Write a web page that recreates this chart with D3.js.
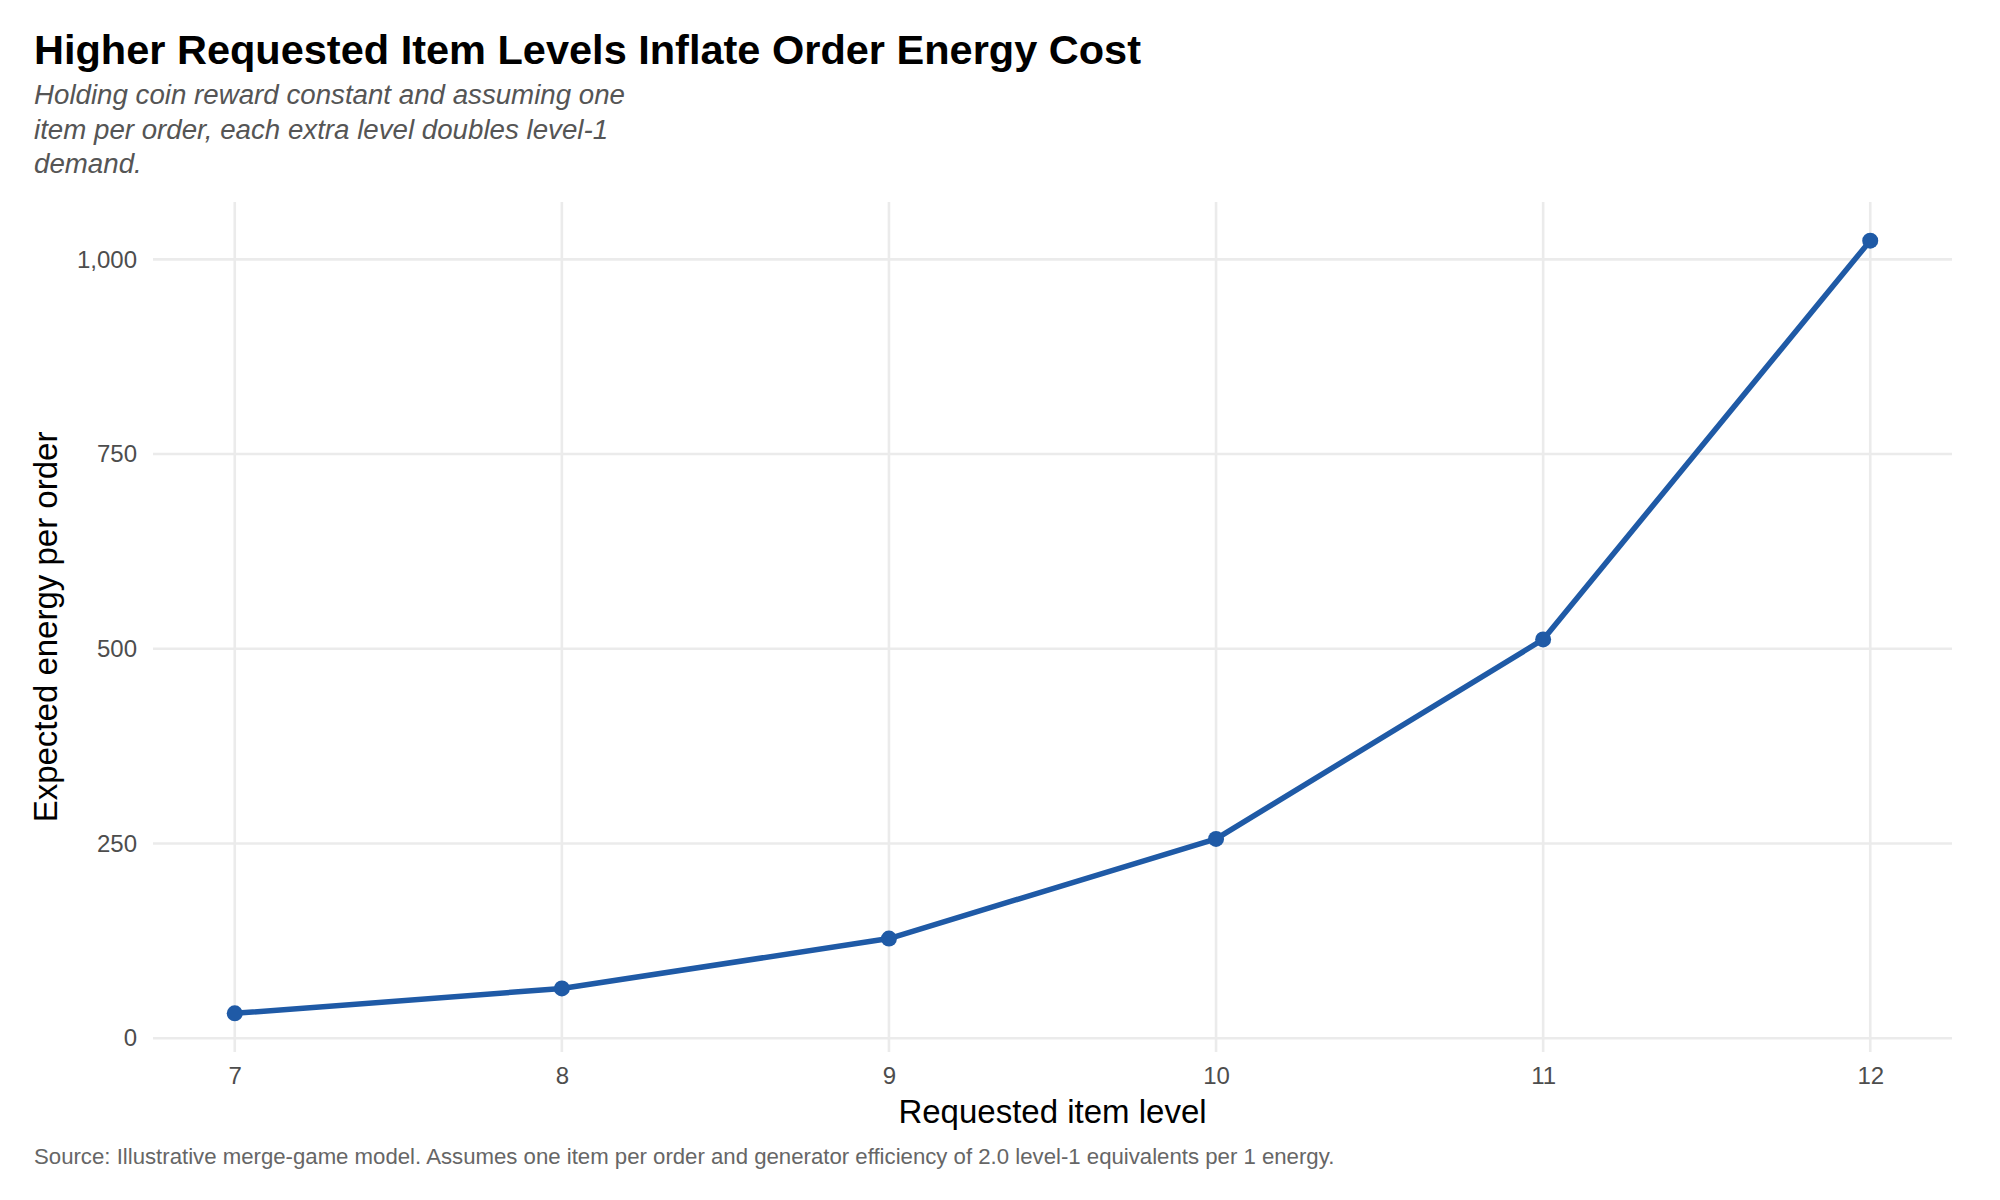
<!DOCTYPE html>
<html lang="en">
<head>
  <meta charset="UTF-8">
  <title>Higher Requested Item Levels Inflate Order Energy Cost</title>
  <script src="https://d3js.org/d3.v7.min.js"></script>
  <style>
    body { margin: 0; background: #fff; }
    text { font-family: "Liberation Sans", Arial, sans-serif; }
  </style>
</head>
<body>
<script>
  // data
  var levels = [7, 8, 9, 10, 11, 12];
  var energy = [32, 64, 128, 256, 512, 1024];
  var yTicks = [0, 250, 500, 750, 1000];

  var width = 2000, height = 1200;
  var margin = { left: 153, right: 48, top: 202, bottom: 148 };

  var svg = d3.select("body").append("svg")
    .attr("width", width)
    .attr("height", height);

  // ggplot style 5% expansion
  var xr = d3.extent(levels), yr = d3.extent(energy);
  var xpad = (xr[1] - xr[0]) * 0.05, ypad = (yr[1] - yr[0]) * 0.05;

  var x = d3.scaleLinear()
    .domain([xr[0] - xpad, xr[1] + xpad])
    .range([margin.left, width - margin.right]);
  var y = d3.scaleLinear()
    .domain([yr[0] - ypad, yr[1] + ypad])
    .range([height - margin.bottom, margin.top]);

  // grid
  svg.append("g").selectAll("line")
    .data(yTicks).enter().append("line")
    .attr("x1", x.range()[0]).attr("x2", x.range()[1])
    .attr("y1", function(d) { return y(d); })
    .attr("y2", function(d) { return y(d); })
    .attr("stroke", "#ebebeb").attr("stroke-width", 2.6);
  svg.append("g").selectAll("line")
    .data(levels).enter().append("line")
    .attr("y1", y.range()[0]).attr("y2", y.range()[1])
    .attr("x1", function(d) { return x(d); })
    .attr("x2", function(d) { return x(d); })
    .attr("stroke", "#ebebeb").attr("stroke-width", 2.6);

  // axes (labels only)
  var fmt = d3.format(",");
  var xAxis = svg.append("g")
    .attr("transform", "translate(0," + (y.range()[0] + 7) + ")")
    .call(d3.axisBottom(x).tickValues(levels).tickSize(0).tickPadding(8).tickFormat(d3.format("d")));
  var yAxis = svg.append("g")
    .attr("transform", "translate(" + (x.range()[0] - 7) + ",0)")
    .call(d3.axisLeft(y).tickValues(yTicks).tickSize(0).tickPadding(9).tickFormat(fmt));
  [xAxis, yAxis].forEach(function(a) {
    a.select(".domain").remove();
    a.selectAll("text")
      .attr("font-family", "Liberation Sans, Arial, sans-serif")
      .attr("font-size", 24)
      .attr("fill", "#4d4d4d");
  });

  // line + points
  var pts = levels.map(function(l, i) { return [l, energy[i]]; });
  var line = d3.line()
    .x(function(d) { return x(d[0]); })
    .y(function(d) { return y(d[1]); });
  svg.append("path")
    .datum(pts)
    .attr("d", line)
    .attr("fill", "none")
    .attr("stroke", "#1f5aa6")
    .attr("stroke-width", 5.5)
    .attr("stroke-linejoin", "round");
  svg.append("g").selectAll("circle")
    .data(pts).enter().append("circle")
    .attr("cx", function(d) { return x(d[0]); })
    .attr("cy", function(d) { return y(d[1]); })
    .attr("r", 8)
    .attr("fill", "#1f5aa6");

  // titles
  svg.append("text")
    .attr("x", 34).attr("y", 64)
    .attr("font-size", 41.5).attr("font-weight", "bold").attr("fill", "#000")
    .text("Higher Requested Item Levels Inflate Order Energy Cost");

  var sub = ["Holding coin reward constant and assuming one",
             "item per order, each extra level doubles level-1",
             "demand."];
  svg.append("g").selectAll("text")
    .data(sub).enter().append("text")
    .attr("x", 34)
    .attr("y", function(d, i) { return 104 + i * 34.5; })
    .attr("font-size", 27.7).attr("font-style", "italic").attr("fill", "#555")
    .text(function(d) { return d; });

  svg.append("text")
    .attr("x", (x.range()[0] + x.range()[1]) / 2).attr("y", 1123)
    .attr("text-anchor", "middle")
    .attr("font-size", 33).attr("fill", "#000")
    .text("Requested item level");

  svg.append("text")
    .attr("transform", "translate(57," + ((y.range()[0] + y.range()[1]) / 2) + ") rotate(-90)")
    .attr("text-anchor", "middle")
    .attr("font-size", 33).attr("fill", "#000")
    .text("Expected energy per order");

  svg.append("text")
    .attr("x", 34).attr("y", 1164)
    .attr("font-size", 22.2).attr("fill", "#666")
    .text("Source: Illustrative merge-game model. Assumes one item per order and generator efficiency of 2.0 level-1 equivalents per 1 energy.");
</script>
</body>
</html>
